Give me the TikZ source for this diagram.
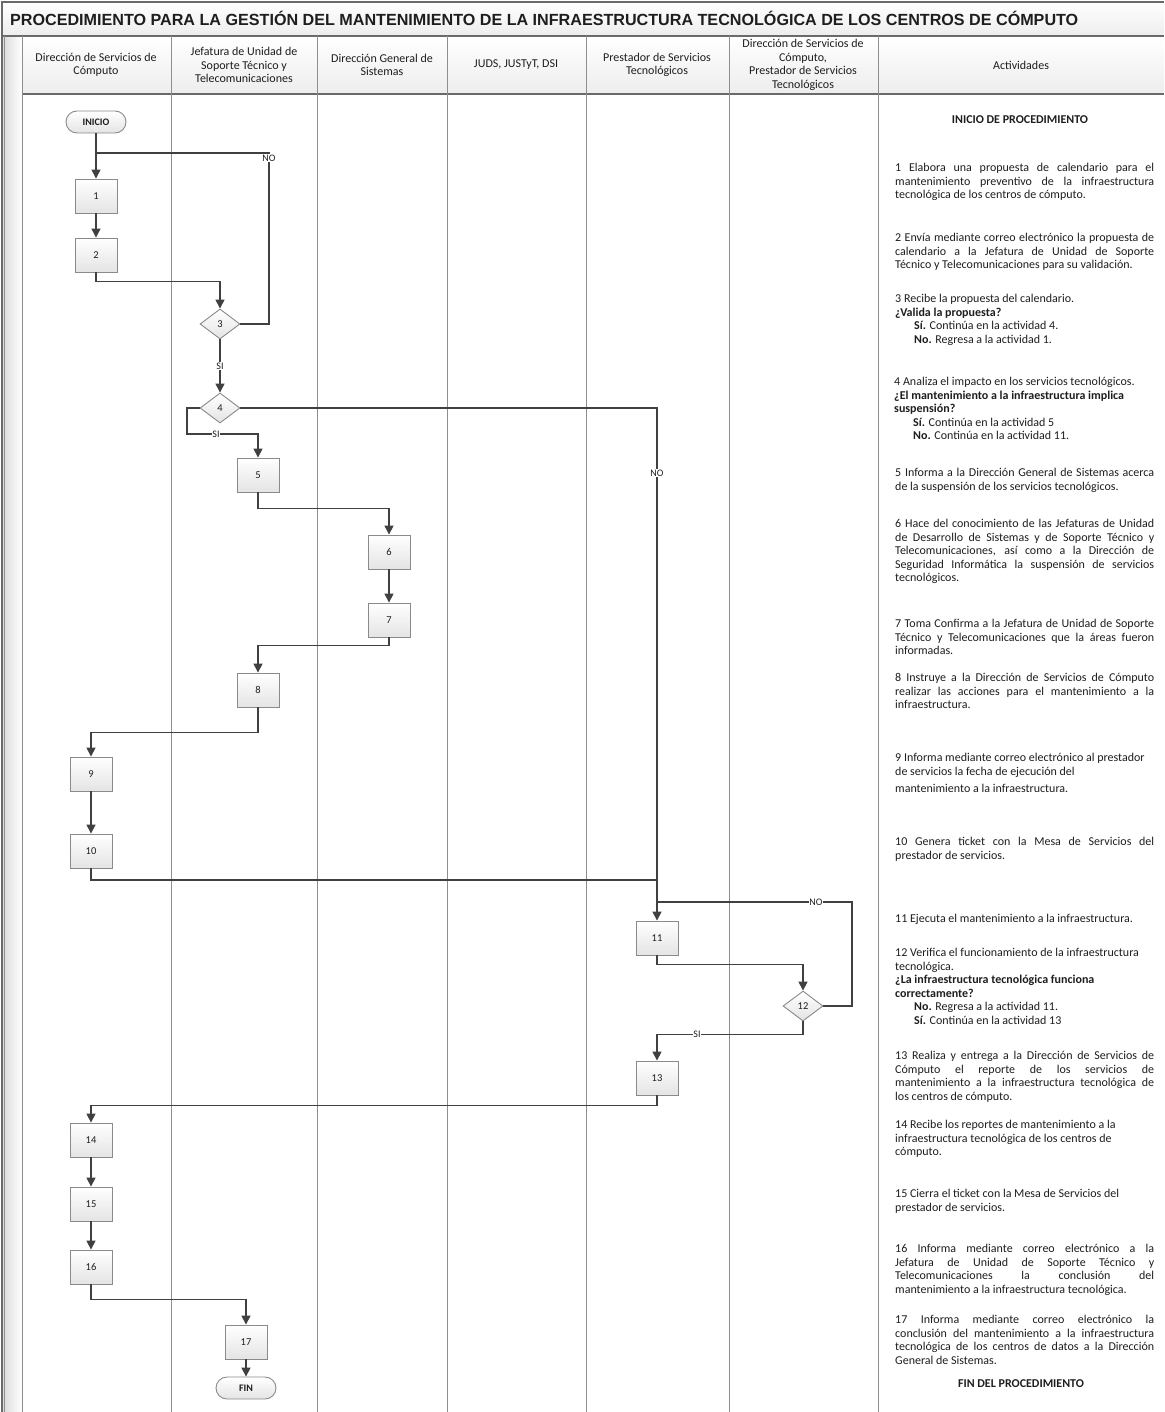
\documentclass[tikz,border=0pt]{standalone}
\usepackage{fontspec}
\setmainfont{Carlito}
\newfontfamily\titlefont{Liberation Sans}
\usetikzlibrary{shapes.geometric,arrows.meta}
\definecolor{lanec}{HTML}{8E8E8E}
\definecolor{framec}{HTML}{6A6A6A}
\definecolor{conn}{HTML}{404040}
\definecolor{boxc}{HTML}{8A8A8A}
\definecolor{boxbot}{HTML}{E4E4E4}
\definecolor{hdrbot}{HTML}{EDEDED}
\definecolor{txt}{HTML}{1E1E1E}
\newcommand\jl[1]{\makebox[259pt][s]{#1}}
\newcommand\ind{\hspace*{19pt}}
\begin{document}
\begin{tikzpicture}[x=1pt,y=-1pt,
  lane/.style={draw=lanec, line width=0.9pt},
  frame/.style={draw=framec, line width=1.2pt},
  box/.style={rectangle, draw=boxc, line width=0.9pt, top color=white, bottom color=boxbot, minimum width=42pt, minimum height=34pt, inner sep=0pt, font=\fontsize{10.5}{11}\selectfont, text=txt},
  dec/.style={diamond, draw=boxc, line width=0.9pt, top color=white, bottom color=boxbot, minimum width=40pt, minimum height=30pt, inner sep=0pt, font=\fontsize{10.5}{11}\selectfont, text=txt},
  term/.style={rectangle, rounded corners=11pt, draw=boxc, line width=0.9pt, top color=white, bottom color=boxbot, minimum width=60pt, minimum height=22pt, inner sep=0pt, font=\fontsize{10}{11}\selectfont\bfseries, text=txt},
  flow/.style={draw=conn, line width=1.5pt},
  arr/.style={flow, -{Triangle[length=9pt,width=9pt]}},
  lbl/.style={fill=white, inner sep=0.8pt, font=\fontsize{10}{11}\selectfont, text=txt},
  hdr/.style={align=center, font=\fontsize{12}{13.5}\selectfont, text=txt, inner sep=0pt},
  act/.style={anchor=north west, align=left, inner sep=0pt, font=\fontsize{12}{13.5}\selectfont, text=txt},
  actb/.style={inner sep=0pt, font=\fontsize{12}{13.5}\selectfont\bfseries, text=txt}
]
\useasboundingbox (0,0) rectangle (1164,1412);
\fill[white] (0,0) rectangle (1164,1412);
% backgrounds
\fill[top color=white, bottom color=hdrbot] (2,2) rectangle (1164,36);
\fill[top color=white, bottom color=hdrbot] (22,36) rectangle (1164,94);
\fill[left color=boxbot!90!gray, right color=white] (2,36) rectangle (22,1412);
% frame
\draw[frame] (2,1412) -- (2,2) -- (1164,2);
\draw[frame] (2,36) -- (1164,36);
\draw[frame] (22,94) -- (1164,94);
\draw[lane] (4,36) -- (4,1412);
\foreach \xx in {22,171,317,447,586,729,878} \draw[lane] (\xx,36) -- (\xx,1412);
% title
\node[anchor=west, inner sep=0pt, text=txt] (title) at (10,18) {\resizebox{1068pt}{!}{\titlefont\bfseries PROCEDIMIENTO PARA LA GESTIÓN DEL MANTENIMIENTO DE LA INFRAESTRUCTURA TECNOLÓGICA DE LOS CENTROS DE CÓMPUTO}};
% headers
\node[hdr] (h1) at (96,65) {Dirección de Servicios de\\Cómputo};
\node[hdr] (h2) at (244,65) {Jefatura de Unidad de\\Soporte Técnico y\\Telecomunicaciones};
\node[hdr] (h3) at (382,65) {Dirección General de\\Sistemas};
\node[hdr] (h4) at (516,65) {JUDS, JUSTyT, DSI};
\node[hdr] (h5) at (657,65) {Prestador de Servicios\\Tecnológicos};
\node[hdr] (h6) at (803,65) {Dirección de Servicios de\\Cómputo,\\Prestador de Servicios\\Tecnológicos};
\node[hdr] (h7) at (1021,65) {Actividades};
% flow nodes
\node[term] (inicio) at (96,122) {INICIO};
\node[box] (b1) at (96,196) {1};
\node[box] (b2) at (96,255) {2};
\node[dec] (d3) at (220,324) {3};
\node[dec] (d4) at (220,408) {4};
\node[box] (b5) at (258,475) {5};
\node[box] (b6) at (389,552) {6};
\node[box] (b7) at (389,620) {7};
\node[box] (b8) at (258,690) {8};
\node[box] (b9) at (91,774) {9};
\node[box] (b10) at (91,851) {10};
\node[box] (b11) at (657,938) {11};
\node[dec] (d12) at (803,1006) {12};
\node[box] (b13) at (657,1078) {13};
\node[box] (b14) at (91,1140) {14};
\node[box] (b15) at (91,1204) {15};
\node[box] (b16) at (91,1267) {16};
\node[box] (b17) at (246,1342) {17};
\node[term] (fin) at (246,1388) {FIN};
\coordinate (j1) at (96,153);
\coordinate (c3) at (269,153);
\coordinate (j2) at (657,880);
\coordinate (j3) at (657,902);
\coordinate (c12) at (852,902);
% connectors
\draw[arr] (inicio.south) -- (b1.north);
\draw[flow] (d3.east) -| (c3) -- (j1);
\draw[arr] (b1.south) -- (b2.north);
\draw[arr] (b2.south) -- ++(0,9) -| (d3.north);
\draw[arr] (d3.south) -- (d4.north);
\draw[arr] (d4.west) -| (187,434) -| (b5.north);
\draw[arr] (d4.east) -| (b11.north);
\draw[arr] (b5.south) -- ++(0,16) -| (b6.north);
\draw[arr] (b6.south) -- (b7.north);
\draw[arr] (b7.south) -- ++(0,8) -| (b8.north);
\draw[arr] (b8.south) -- ++(0,25) -| (b9.north);
\draw[arr] (b9.south) -- (b10.north);
\draw[flow] (b10.south) |- (j2);
\draw[flow] (d12.east) -| (c12) -- (j3);
\draw[arr] (b11.south) -- ++(0,9) -| (d12.north);
\draw[arr] (d12.south) -- ++(0,13) -| (b13.north);
\draw[arr] (b13.south) -- ++(0,10) -| (b14.north);
\draw[arr] (b14.south) -- (b15.north);
\draw[arr] (b15.south) -- (b16.north);
\draw[arr] (b16.south) -- ++(0,15) -| (b17.north);
\draw[arr] (b17.south) -- (fin.north);
% labels
\node[lbl] (l3no) at (269,158) {NO};
\node[lbl] (l3si) at (220,366) {SI};
\node[lbl] (l4si) at (216,434) {SI};
\node[lbl] (l4no) at (657,473) {NO};
\node[lbl] (l12no) at (816,902) {NO};
\node[lbl] (l12si) at (697,1034) {SI};
% activities
\node[actb] (ai) at (1020,120) {INICIO DE PROCEDIMIENTO};
\node[act] (a1) at (895,163) {\jl{1 Elabora una propuesta de calendario para el}\\\jl{mantenimiento preventivo de la infraestructura}\\tecnológica de los centros de cómputo.};
\node[act] (a2) at (895,233) {\jl{2 Envía mediante correo electrónico la propuesta de}\\\jl{calendario a la Jefatura de Unidad de Soporte}\\Técnico y Telecomunicaciones para su validación.};
\node[act] (a3) at (895,294) {3 Recibe la propuesta del calendario.\\\textbf{¿Valida la propuesta?}\\\ind\textbf{Sí.} Continúa en la actividad 4.\\\ind\textbf{No.} Regresa a la actividad 1.};
\node[act] (a4) at (894,377) {4 Analiza el impacto en los servicios tecnológicos.\\\textbf{¿El mantenimiento a la infraestructura implica}\\\textbf{suspensión?}\\\ind\textbf{Sí.} Continúa en la actividad 5\\\ind\textbf{No.} Continúa en la actividad 11.};
\node[act] (a5) at (895,468) {\jl{5 Informa a la Dirección General de Sistemas acerca}\\de la suspensión de los servicios tecnológicos.};
\node[act] (a6) at (895,519) {\jl{6 Hace del conocimiento de las Jefaturas de Unidad}\\\jl{de Desarrollo de Sistemas y de Soporte Técnico y}\\\jl{Telecomunicaciones, así como a la Dirección de}\\\jl{Seguridad Informática la suspensión de servicios}\\tecnológicos.};
\node[act] (a7) at (895,619) {\jl{7 Toma Confirma a la Jefatura de Unidad de Soporte}\\\jl{Técnico y Telecomunicaciones que la áreas fueron}\\informadas.};
\node[act] (a8) at (895,673) {\jl{8 Instruye a la Dirección de Servicios de Cómputo}\\\jl{realizar las acciones para el mantenimiento a la}\\infraestructura.};
\node[act] (a9) at (895,753) {9 Informa mediante correo electrónico al prestador\\de servicios la fecha de ejecución del\\[3.5pt]mantenimiento a la infraestructura.};
\node[act] (a10) at (895,837) {\jl{10 Genera ticket con la Mesa de Servicios del}\\prestador de servicios.};
\node[act] (a11) at (895,914) {11 Ejecuta el mantenimiento a la infraestructura.};
\node[act] (a12) at (895,948) {12 Verifica el funcionamiento de la infraestructura\\tecnológica.\\\textbf{¿La infraestructura tecnológica funciona}\\\textbf{correctamente?}\\\ind\textbf{No.} Regresa a la actividad 11.\\\ind\textbf{Sí.} Continúa en la actividad 13};
\node[act] (a13) at (895,1051) {\jl{13 Realiza y entrega a la Dirección de Servicios de}\\\jl{Cómputo el reporte de los servicios de}\\\jl{mantenimiento a la infraestructura tecnológica de}\\los centros de cómputo.};
\node[act] (a14) at (895,1120) {14 Recibe los reportes de mantenimiento a la\\infraestructura tecnológica de los centros de\\cómputo.};
\node[act] (a15) at (895,1189) {15 Cierra el ticket con la Mesa de Servicios del\\prestador de servicios.};
\node[act] (a16) at (895,1244) {\jl{16 Informa mediante correo electrónico a la}\\\jl{Jefatura de Unidad de Soporte Técnico y}\\\jl{Telecomunicaciones la conclusión del}\\mantenimiento a la infraestructura tecnológica.};
\node[act] (a17) at (895,1315) {\jl{17 Informa mediante correo electrónico la}\\\jl{conclusión del mantenimiento a la infraestructura}\\\jl{tecnológica de los centros de datos a la Dirección}\\General de Sistemas.};
\node[actb] (af) at (1021,1384) {FIN DEL PROCEDIMIENTO};
\end{tikzpicture}
\end{document}
